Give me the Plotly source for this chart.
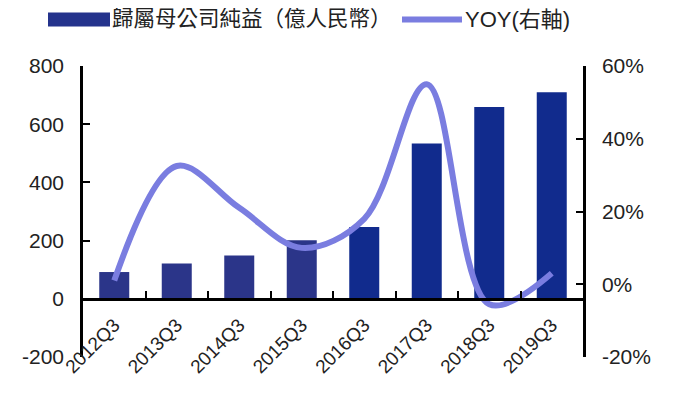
import plotly.graph_objects as go

categories = ["2012Q3", "2013Q3", "2014Q3", "2015Q3", "2016Q3", "2017Q3", "2018Q3", "2019Q3"]
net_income = [92, 121, 149, 201, 247, 534, 659, 710]
yoy_pct = [1, 32.5, 21, 10, 18, 55, -5.5, 3]
left_ticks = [-200, 0, 200, 400, 600, 800]
left_labels = ["-200", "0", "200", "400", "600", "800"]
right_ticks = [-20, 0, 20, 40, 60]
right_labels = ["-20%", "0%", "20%", "40%", "60%"]

bar_name = "歸屬母公司純益（億人民幣）"
line_name = "YOY(右軸)"

# page body has an 8px default margin; plot area in window pixels: x 83..583, y 66..357
OFF = 8
W, H = 680, 393
L, T = 83 - OFF, 66 - OFF
R, B = W - (583 - OFF), H - (357 - OFF)
PW, PH = W - L - R, H - T - B

def px_x(x):
    return (x - OFF - L) / PW

def px_y(y):
    return (T + PH - (y - OFF)) / PH

bar_colors = ["#2b3589"] * 4 + ["#112b8d"] * 4
line_color = "#7a7de0"
font_family = "Liberation Sans, Arial, Noto Sans CJK TC, sans-serif"

fig = go.Figure()
fig.add_trace(go.Bar(x=categories, y=net_income, marker=dict(color=bar_colors, line=dict(width=0)),
                     name=bar_name, yaxis="y"))
fig.add_trace(go.Scatter(x=categories, y=yoy_pct, mode="lines", name=line_name, yaxis="y2",
                         line=dict(color=line_color, width=6, shape="spline", smoothing=1)))

axis_common = dict(showline=True, linecolor="black", linewidth=2.5, ticks="inside", ticklen=7,
                   tickwidth=2, tickcolor="black", showgrid=False, zeroline=False, automargin=False,
                   ticklabelstandoff=12,
                   tickfont=dict(family=font_family, size=21, color="#222"))

fig.update_layout(
    width=W, height=H, margin=dict(l=L, r=R, t=T, b=B),
    paper_bgcolor="white", plot_bgcolor="white", showlegend=False, bargap=0.52,
    xaxis=dict(anchor="free", position=0.2, showline=True, linecolor="black", linewidth=2.5,
               ticks="inside", ticklen=7, tickwidth=2, tickcolor="black", tickson="boundaries",
               showgrid=False, zeroline=False, tickangle=-45, automargin=False, ticklabelstandoff=6,
               tickfont=dict(family=font_family, size=19, color="#222")),
    yaxis=dict(range=[-200, 800], tickvals=left_ticks, ticktext=left_labels, **axis_common),
    yaxis2=dict(range=[-20, 60], tickvals=right_ticks, ticktext=right_labels, overlaying="y", side="right",
                **axis_common),
    shapes=[
        dict(type="rect", xref="paper", yref="paper", x0=px_x(48), x1=px_x(110), y0=px_y(26.5), y1=px_y(12.5),
             fillcolor="#24338c", line=dict(width=0)),
        dict(type="line", xref="paper", yref="paper", x0=px_x(402), x1=px_x(462), y0=px_y(19.5), y1=px_y(19.5),
             line=dict(color=line_color, width=6)),
    ],
    annotations=[
        dict(text=bar_name, xref="paper", yref="paper", x=px_x(110), y=px_y(19.5), xanchor="left",
             yanchor="middle", showarrow=False, font=dict(family=font_family, size=21.5, color="#222")),
        dict(text=line_name, xref="paper", yref="paper", x=px_x(463), y=px_y(19.5), xanchor="left",
             yanchor="middle", showarrow=False, font=dict(family=font_family, size=22, color="#222")),
    ],
)

fig.write_html("out.html")
